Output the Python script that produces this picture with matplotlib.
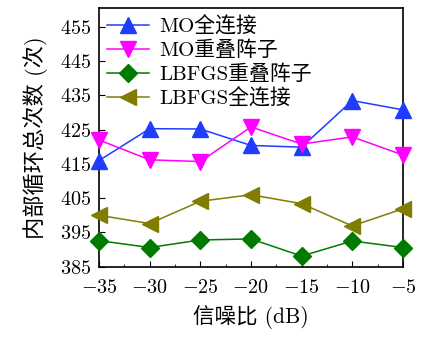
import matplotlib
matplotlib.use('Agg')
import matplotlib.pyplot as plt
from matplotlib.ticker import MultipleLocator

plt.rcParams['font.family'] = ['cmr10', 'Noto Sans CJK SC']
plt.rcParams['mathtext.fontset'] = 'cm'
plt.rcParams['axes.formatter.use_mathtext'] = True
plt.rcParams['axes.unicode_minus'] = True

snr = [-35, -30, -25, -20, -15, -10, -5]
mo_full = [416, 425.3, 425.2, 420.4, 419.9, 433.5, 430.8]
mo_overlap = [422, 416.2, 415.7, 425.8, 420.8, 422.9, 417.6]
lbfgs_overlap = [392.6, 390.6, 392.8, 393.1, 388.1, 392.5, 390.6]
lbfgs_full = [400, 397.6, 404.1, 406, 403.4, 396.9, 401.9]

labels = ['MO全连接', 'MO重叠阵子', 'LBFGS重叠阵子', 'LBFGS全连接']
colors = ['#1f3cff', '#ff00ff', '#007b00', '#807d00']
markers = ['^', 'v', 'D', '<']
sizes = [11, 11, 9, 11]
series = [mo_full, mo_overlap, lbfgs_overlap, lbfgs_full]


def main():
    fig = plt.figure(figsize=(4.25, 3.38), dpi=100)
    ax = fig.add_axes([0.233, 0.211, 0.715, 0.765])

    for vals, lab, c, m, s in zip(series, labels, colors, markers, sizes):
        ax.plot(snr, vals, color=c, marker=m, markersize=s, linewidth=1.1,
                label=lab, clip_on=False, zorder=3)

    ax.set_xlim(-35, -5)
    ax.set_ylim(385, 460.5)
    ax.set_xticks(snr)
    ax.xaxis.set_minor_locator(MultipleLocator(2.5))
    ax.set_yticks(range(385, 460, 10))
    ax.tick_params(direction='in', labelsize=14.5, length=4, right=False, top=False)
    ax.tick_params(axis='x', which='minor', direction='in', length=2)
    ax.tick_params(axis='x', pad=9)
    ax.tick_params(axis='y', pad=6)

    ax.set_xlabel('信噪比 (dB)', fontsize=15.5, labelpad=6)
    ax.set_ylabel('内部循环总次数 (次)', fontsize=16, labelpad=8)

    for sp in ax.spines.values():
        sp.set_linewidth(1.2)

    ax.legend(loc='upper left', frameon=False, fontsize=15, handlelength=2.0,
              borderaxespad=0.1, borderpad=0.3, labelspacing=0.2,
              handletextpad=0.5)

    fig.savefig('out.png', dpi=100)


if __name__ == '__main__':
    main()
